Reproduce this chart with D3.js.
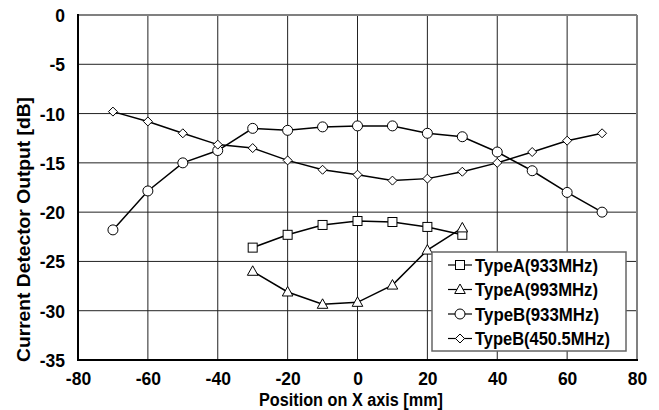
<!DOCTYPE html>
<html>
<head>
<meta charset="utf-8">
<script src="https://cdn.jsdelivr.net/npm/d3@7"></script>
<style>
  html, body { margin: 0; padding: 0; background: #fff; }
  svg { display: block; font-family: "Liberation Sans", Arial, sans-serif; font-weight: bold; }
</style>
</head>
<body>
<svg id="chart" width="659" height="410"></svg>
<script>
// Measurement positions along the X axis [mm]
const posA = [-30, -20, -10, 0, 10, 20, 30];
const posB = [-70, -60, -50, -40, -30, -20, -10, 0, 10, 20, 30, 40, 50, 60, 70];

// Current detector output [dB] per sensor type / frequency
const typeA933 = [-23.6, -22.3, -21.3, -20.9, -21.0, -21.5, -22.3];
const typeA993 = [-26.0, -28.1, -29.35, -29.15, -27.4, -23.85, -21.6];
const typeB933 = [-21.8, -17.85, -15.0, -13.75, -11.5, -11.7, -11.35, -11.25, -11.25, -12.0, -12.35, -13.9, -15.8, -18.0, -20.0];
const typeB450 = [-9.8, -10.8, -12.0, -13.15, -13.5, -14.75, -15.7, -16.2, -16.8, -16.6, -15.9, -15.0, -13.9, -12.75, -12.0];

const seriesNames = ["TypeA(933MHz)", "TypeA(993MHz)", "TypeB(933MHz)", "TypeB(450.5MHz)"];
const xTicks = [-80, -60, -40, -20, 0, 20, 40, 60, 80];
const yTicks = [0, -5, -10, -15, -20, -25, -30, -35];

const series = [
  { name: seriesNames[0], xs: posA, ys: typeA933, shape: "square" },
  { name: seriesNames[1], xs: posA, ys: typeA993, shape: "triangle" },
  { name: seriesNames[2], xs: posB, ys: typeB933, shape: "circle" },
  { name: seriesNames[3], xs: posB, ys: typeB450, shape: "diamond" }
];

const svg = d3.select("#chart");
const L = 78, R = 637, T = 15, B = 360;
const x = d3.scaleLinear().domain([-80, 80]).range([L, R]);
const y = d3.scaleLinear().domain([-35, 0]).range([B, T]);

// Grid
const grid = svg.append("g").attr("stroke", "#222").attr("stroke-width", 1);
grid.selectAll(".gx").data(xTicks.slice(1, -1)).join("line")
  .attr("x1", d => x(d)).attr("x2", d => x(d)).attr("y1", T).attr("y2", B);
grid.selectAll(".gy").data(yTicks.slice(1, -1)).join("line")
  .attr("y1", d => y(d)).attr("y2", d => y(d)).attr("x1", L).attr("x2", R);

// Frame: grey top/right, black axes left/bottom
svg.append("line").attr("x1", L).attr("x2", R).attr("y1", T).attr("y2", T)
  .attr("stroke", "#808080").attr("stroke-width", 2);
svg.append("line").attr("x1", R).attr("x2", R).attr("y1", T).attr("y2", B)
  .attr("stroke", "#808080").attr("stroke-width", 2);
svg.append("line").attr("x1", L).attr("x2", L).attr("y1", T - 1).attr("y2", B + 1)
  .attr("stroke", "#000").attr("stroke-width", 2);
svg.append("line").attr("x1", L - 1).attr("x2", R + 1).attr("y1", B).attr("y2", B)
  .attr("stroke", "#000").attr("stroke-width", 2);

// Axis labels (plain hyphen for negatives)
const fmt = d => String(d);
const xAxis = svg.append("g").attr("transform", `translate(0,${B})`)
  .call(d3.axisBottom(x).tickValues(xTicks).tickSize(0).tickPadding(13).tickFormat(fmt));
const yAxis = svg.append("g").attr("transform", `translate(${L},0)`)
  .call(d3.axisLeft(y).tickValues(yTicks).tickSize(0).tickPadding(13).tickFormat(fmt));
[xAxis, yAxis].forEach(a => {
  a.select(".domain").remove();
  a.selectAll("text").attr("font-size", 17.5).attr("font-weight", "bold")
    .attr("font-family", "'Liberation Sans', Arial, sans-serif").attr("fill", "#000");
});
yAxis.selectAll("text").attr("dy", "0.37em");

svg.append("text").attr("x", 351).attr("y", 406).attr("text-anchor", "middle")
  .attr("font-size", 18).attr("textLength", 184).attr("lengthAdjust", "spacingAndGlyphs")
  .text("Position on X axis [mm]");
svg.append("text").attr("transform", "translate(30,229.5) rotate(-90)").attr("text-anchor", "middle")
  .attr("font-size", 18).attr("textLength", 265).attr("lengthAdjust", "spacingAndGlyphs")
  .text("Current Detector Output [dB]");

// Marker shapes
function marker(g, shape) {
  const st = { fill: "#fff", stroke: "#000", "stroke-width": 1 };
  let m;
  if (shape === "square") m = g.append("rect").attr("x", -4.5).attr("y", -4.5).attr("width", 9).attr("height", 9);
  else if (shape === "circle") m = g.append("circle").attr("r", 5);
  else if (shape === "triangle") m = g.append("path").attr("d", "M0,-5.5L5.3,4L-5.3,4Z");
  else m = g.append("path").attr("d", "M0,-4.5L4.5,0L0,4.5L-4.5,0Z");
  Object.entries(st).forEach(([k, v]) => m.attr(k, v));
}

const line = d3.line().x(d => x(d[0])).y(d => y(d[1]));
series.forEach(s => {
  const pts = s.xs.map((v, i) => [v, s.ys[i]]);
  svg.append("path").attr("d", line(pts)).attr("fill", "none")
    .attr("stroke", "#000").attr("stroke-width", 1.5);
});
series.forEach(s => {
  s.xs.forEach((v, i) => {
    const g = svg.append("g").attr("transform", `translate(${x(v)},${y(s.ys[i])})`);
    marker(g, s.shape);
  });
});

// Legend
const legendWidths = [123, 123, 124, 135];
const lg = svg.append("g");
lg.append("rect").attr("x", 432).attr("y", 252).attr("width", 194).attr("height", 99)
  .attr("fill", "#fff").attr("stroke", "#666").attr("stroke-width", 1.5);
series.forEach((s, i) => {
  const cy = 265 + i * 24.5;
  lg.append("line").attr("x1", 448).attr("x2", 472).attr("y1", cy).attr("y2", cy)
    .attr("stroke", "#000").attr("stroke-width", 1.2);
  marker(lg.append("g").attr("transform", `translate(460,${cy})`), s.shape);
  lg.append("text").attr("x", 475).attr("y", cy + 6.7).attr("font-size", 18.5)
    .attr("textLength", legendWidths[i]).attr("lengthAdjust", "spacingAndGlyphs").text(s.name);
});
</script>
</body>
</html>
